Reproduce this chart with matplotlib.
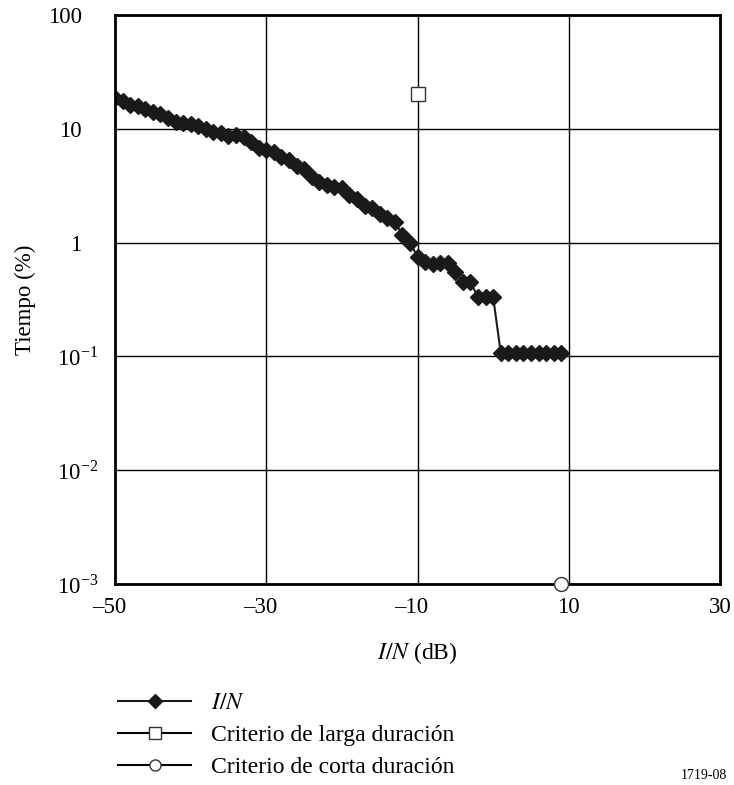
import numpy as np
import matplotlib.pyplot as plt
from matplotlib.transforms import ScaledTranslation

plt.rcParams['font.family'] = ['Liberation Serif', 'DejaVu Serif']
plt.rcParams['mathtext.fontset'] = 'stix'

# I/N curve (dB vs % time)
in_db = [-50, -49, -48, -47, -46, -45, -44, -43, -42, -41,
         -40, -39, -38, -37, -36, -35, -34, -33, -32, -31,
         -30, -29, -28, -27, -26, -25, -24, -23, -22, -21,
         -20, -19, -18, -17, -16, -15, -14, -13, -12, -11,
         -10, -9, -8, -7, -6, -5, -4, -3, -2, -1,
         0, 1, 2, 3, 4, 5, 6, 7, 8, 9]
tiempo = [18.7, 17.4, 16.2, 15.9, 15.0, 14.1, 13.5, 12.5, 11.5, 11.3,
          11.1, 10.6, 10.0, 9.4, 9.2, 8.7, 8.9, 8.5, 7.7, 6.8,
          6.5, 6.2, 5.7, 5.3, 4.7, 4.4, 3.8, 3.4, 3.2, 3.1,
          3.0, 2.6, 2.4, 2.1, 2.0, 1.8, 1.66, 1.53, 1.17, 1.0,
          0.75, 0.67, 0.65, 0.66, 0.66, 0.55, 0.45, 0.45, 0.33, 0.33,
          0.33, 0.108, 0.108, 0.108, 0.108, 0.108, 0.108, 0.108, 0.108, 0.108]

# criteria points
larga_x = [-10]
larga_y = [20]
corta_x = [9]
corta_y = [0.001]

xticks = [-50, -30, -10, 10, 30]
xtick_labels = ['\u201350', '\u201330', '\u201310', '10', '30']
yticks = [0.001, 0.01, 0.1, 1, 10, 100]
ytick_labels = ['10$^{\\mathregular{\u22123}}$', '10$^{\\mathregular{\u22122}}$',
                '10$^{\\mathregular{\u22121}}$', '1', '10', '100']

fig = plt.figure(figsize=(7.34, 7.85), dpi=100)
ax = fig.add_axes([0.1567, 0.256, 0.8243, 0.725])

l1, = ax.plot(in_db, tiempo, color='#1a1a1a', lw=1.5, marker='D', ms=8.5,
              mfc='#1a1a1a', mec='#1a1a1a', label='$I/N$')
l2, = ax.plot(larga_x, larga_y, color='black', lw=1.5, marker='s', ms=10,
              mfc='white', mec='#333333', mew=1, label='Criterio de larga duraci\u00f3n')
l3, = ax.plot(corta_x, corta_y, color='black', lw=1.5, marker='o', ms=10,
              mfc='white', mec='#333333', mew=1, label='Criterio de corta duraci\u00f3n',
              clip_on=False, zorder=5)

ax.set_yscale('log')
ax.set_xlim(-50, 30)
ax.set_ylim(0.001, 100)
ax.set_xticks(xticks)
ax.set_xticklabels(xtick_labels)
ax.set_yticks(yticks)
ax.set_yticklabels(ytick_labels)
ax.minorticks_off()
ax.tick_params(length=0, labelsize=16.5)
ax.tick_params(axis='x', pad=9)
ax.tick_params(axis='y', pad=24)
ax.grid(True, color='black', lw=1)
for s in ax.spines.values():
    s.set_linewidth(2)

# superscript labels: base digits aligned with the plain labels
for lbl in ax.get_yticklabels():
    if '$' in lbl.get_text():
        lbl.set_transform(lbl.get_transform() + ScaledTranslation(0.17, 0, fig.dpi_scale_trans))
# negative x labels: digits centred on the tick, dash hanging left
for lbl in ax.get_xticklabels():
    if lbl.get_text().startswith('\u2013'):
        lbl.set_transform(lbl.get_transform() + ScaledTranslation(-0.06, 0, fig.dpi_scale_trans))

ax.set_xlabel('$I/N$ (dB)', fontsize=17)
ax.xaxis.set_label_coords(0.5, -0.098)
ax.set_ylabel('Tiempo (%)', fontsize=16.5)
ax.yaxis.set_label_coords(-0.13, 0.5)

fig.legend(handles=[l1, l2, l3], loc='upper left', bbox_to_anchor=(0.145, 0.133),
           frameon=False, fontsize=17, handlelength=3.1, handletextpad=0.85,
           labelspacing=0.45, borderpad=0, markerscale=0.8)

fig.text(0.99, 0.004, '1719-08', fontsize=10, ha='right', va='bottom')

fig.savefig('out.png', dpi=100)
